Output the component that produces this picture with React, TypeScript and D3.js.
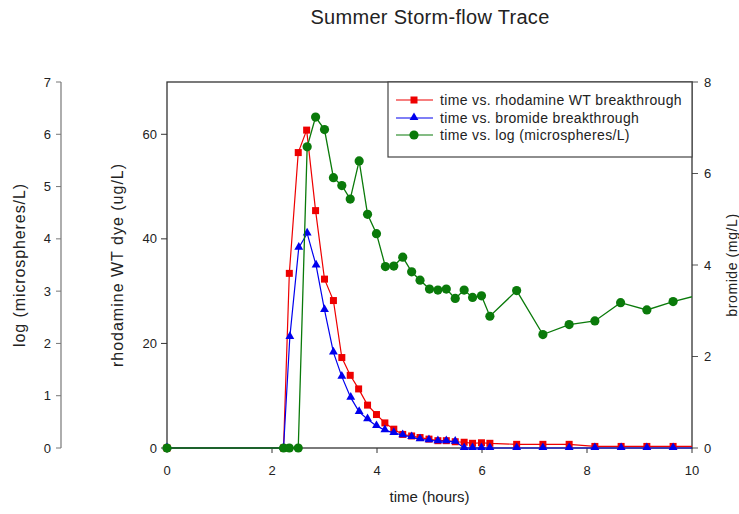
import React from "react";
import * as d3 from "d3";

const rhoTime = [0, 2.22, 2.33, 2.5, 2.66, 2.83, 3.0, 3.17, 3.33, 3.49, 3.65, 3.82, 3.99, 4.15, 4.32, 4.49, 4.66, 4.82, 4.99, 5.16, 5.32, 5.49, 5.66, 5.82, 5.99, 6.15, 6.66, 7.16, 7.66, 8.15, 8.65, 9.14, 9.64, 10.14];
const rhoValues = [0, 0, 33.4, 56.5, 60.8, 45.4, 32.3, 28.2, 17.3, 13.9, 11.3, 8.2, 6.4, 4.8, 3.6, 2.6, 2.3, 2.0, 1.7, 1.4, 1.4, 1.2, 1.1, 0.9, 1.0, 0.9, 0.7, 0.7, 0.7, 0.3, 0.3, 0.3, 0.3, 0.3];

const brTime = [0, 2.22, 2.34, 2.51, 2.67, 2.84, 3.0, 3.17, 3.33, 3.5, 3.66, 3.82, 3.99, 4.15, 4.32, 4.49, 4.66, 4.82, 4.99, 5.16, 5.32, 5.49, 5.66, 5.82, 5.99, 6.15, 6.66, 7.16, 7.66, 8.15, 8.65, 9.14, 9.64, 10.14];
const brValues = [0, 0, 2.43, 4.38, 4.69, 3.99, 3.02, 2.09, 1.56, 1.1, 0.79, 0.63, 0.48, 0.39, 0.33, 0.28, 0.24, 0.19, 0.17, 0.15, 0.15, 0.14, 0, 0, 0, 0, 0, 0, 0, 0, 0, 0, 0, 0];

const micTime = [0, 2.22, 2.33, 2.5, 2.67, 2.83, 3.0, 3.17, 3.33, 3.49, 3.66, 3.82, 3.99, 4.16, 4.32, 4.49, 4.66, 4.82, 5.0, 5.16, 5.32, 5.49, 5.66, 5.82, 5.99, 6.15, 6.66, 7.16, 7.66, 8.15, 8.64, 9.14, 9.64, 10.14];
const micValues = [0, 0, 0, 0, 5.76, 6.33, 6.09, 5.17, 5.02, 4.76, 5.49, 4.47, 4.1, 3.47, 3.48, 3.65, 3.37, 3.21, 3.04, 3.02, 3.04, 2.86, 3.02, 2.88, 2.91, 2.52, 3.01, 2.17, 2.36, 2.43, 2.78, 2.64, 2.8, 2.93];

const xTicks = [0, 2, 4, 6, 8, 10];
const logTicks = [0, 1, 2, 3, 4, 5, 6, 7];
const rhoTicks = [0, 20, 40, 60];
const brTicks = [0, 2, 4, 6, 8];

const legendLabels = [
  "time vs. rhodamine WT breakthrough",
  "time vs. bromide breakthrough",
  "time vs. log (microspheres/L)",
];

const W = 739;
const H = 514;
const L = 167, R = 692, T = 82, B = 448;
const FONT = "'Liberation Sans', Arial, sans-serif";
const RED = "#ee0000";
const BLUE = "#0000ee";
const GREEN = "#0a7a0a";
const TXT = "#222";

export default function App() {
  const x = d3.scaleLinear().domain([0, 10]).range([L, R]);
  const yRho = d3.scaleLinear().domain([0, 70]).range([B, T]);
  const yLog = d3.scaleLinear().domain([0, 7]).range([B, T]);
  const yBr = d3.scaleLinear().domain([0, 8]).range([B, T]);

  const rho = rhoTime.map((t, i) => [t, rhoValues[i]] as [number, number]);
  const br = brTime.map((t, i) => [t, brValues[i]] as [number, number]);
  const mic = micTime.map((t, i) => [t, micValues[i]] as [number, number]);

  const lineRho = d3.line<[number, number]>().x((d) => x(d[0])).y((d) => yRho(d[1]));
  const lineBr = d3.line<[number, number]>().x((d) => x(d[0])).y((d) => yBr(d[1]));
  const lineMic = d3.line<[number, number]>().x((d) => x(d[0])).y((d) => yLog(d[1]));
  const tri = d3.symbol().type(d3.symbolTriangle).size(34)() as string;

  const logAxisX = 61;
  const legendY = [100, 118, 135];

  return (
    <svg
      width={W}
      height={H}
      style={{ position: "absolute", left: 0, top: 0, background: "#fff" }}
      fontFamily={FONT}
    >
      <defs>
        <clipPath id="plotclip">
          <rect x={L - 8} y={T - 8} width={R - L + 8} height={B - T + 16} />
        </clipPath>
      </defs>
      <rect x={0} y={0} width={W} height={H} fill="#fff" />

      {/* title */}
      <text x={430} y={24} textAnchor="middle" fontSize={20} letterSpacing={0.3} fill={TXT}>
        Summer Storm-flow Trace
      </text>

      {/* log axis */}
      <line x1={logAxisX} x2={logAxisX} y1={T} y2={B} stroke="#777" strokeWidth={1.2} />
      {logTicks.map((v) => (
        <g key={"lt" + v}>
          <line x1={logAxisX - 5} x2={logAxisX} y1={yLog(v)} y2={yLog(v)} stroke="#777" />
          <text x={logAxisX - 10} y={yLog(v) + 4.5} textAnchor="end" fontSize={13} fill={TXT}>
            {v}
          </text>
        </g>
      ))}
      <text transform={`translate(25,${(T + B) / 2}) rotate(-90)`} textAnchor="middle" fontSize={16} letterSpacing={0.9} fill={TXT}>
        log (microspheres/L)
      </text>

      {/* rhodamine axis */}
      {rhoTicks.map((v) => (
        <g key={"rt" + v}>
          <line x1={L - 6} x2={L} y1={yRho(v)} y2={yRho(v)} stroke="#333" />
          <text x={L - 10} y={yRho(v) + 4.5} textAnchor="end" fontSize={13} fill={TXT}>
            {v}
          </text>
        </g>
      ))}
      <text transform={`translate(123,${(T + B) / 2}) rotate(-90)`} textAnchor="middle" fontSize={16} letterSpacing={1} fill={TXT}>
        rhodamine WT dye (ug/L)
      </text>

      {/* bromide axis */}
      {brTicks.map((v) => (
        <g key={"bt" + v}>
          <line x1={R} x2={R + 6} y1={yBr(v)} y2={yBr(v)} stroke="#555" />
          <text x={R + 12} y={yBr(v) + 4.5} textAnchor="start" fontSize={13} fill={TXT}>
            {v}
          </text>
        </g>
      ))}
      <text transform={`translate(737,${(T + B) / 2}) rotate(-90)`} textAnchor="middle" fontSize={14} letterSpacing={0.6} fill={TXT}>
        bromide (mg/L)
      </text>

      {/* x axis */}
      {xTicks.map((v) => (
        <g key={"xt" + v}>
          <line x1={x(v)} x2={x(v)} y1={B} y2={B + 5} stroke="#333" />
          <text x={x(v)} y={B + 27} textAnchor="middle" fontSize={13} fill={TXT}>
            {v}
          </text>
        </g>
      ))}
      <text x={(L + R) / 2} y={502} textAnchor="middle" fontSize={15} fill={TXT}>
        time (hours)
      </text>

      {/* frame */}
      <rect x={L} y={T} width={R - L} height={B - T} fill="none" stroke="#333" strokeWidth={1.3} />

      {/* series */}
      <g clipPath="url(#plotclip)">
        <path d={lineRho(rho) ?? ""} fill="none" stroke={RED} strokeWidth={1.2} />
        {rho.map((d, i) => (
          <rect key={"rs" + i} x={x(d[0]) - 3.5} y={yRho(d[1]) - 3.5} width={7} height={7} fill={RED} />
        ))}
        <path d={lineBr(br) ?? ""} fill="none" stroke={BLUE} strokeWidth={1.2} />
        {br.map((d, i) => (
          <path key={"bs" + i} d={tri} transform={`translate(${x(d[0])},${yBr(d[1]) - 0.5})`} fill={BLUE} />
        ))}
        <path d={lineMic(mic) ?? ""} fill="none" stroke={GREEN} strokeWidth={1.3} />
        {mic.map((d, i) => (
          <circle key={"gs" + i} cx={x(d[0])} cy={yLog(d[1])} r={4.6} fill={GREEN} />
        ))}
      </g>

      {/* legend */}
      <rect x={388} y={T} width={R - 388} height={75} fill="#fff" stroke="#444" strokeWidth={1.2} />
      {legendLabels.map((lab, i) => {
        const cy = legendY[i];
        const col = [RED, BLUE, GREEN][i];
        return (
          <g key={"lg" + i}>
            <line x1={396} x2={433} y1={cy} y2={cy} stroke={col} strokeWidth={1.2} />
            {i === 0 && <rect x={410.5} y={cy - 3.5} width={7} height={7} fill={col} />}
            {i === 1 && <path d={tri} transform={`translate(414,${cy - 0.5})`} fill={col} />}
            {i === 2 && <circle cx={414} cy={cy} r={4.6} fill={col} />}
            <text x={440} y={cy + 4.5} fontSize={14} letterSpacing={0.35} fill={TXT}>
              {lab}
            </text>
          </g>
        );
      })}
    </svg>
  );
}
